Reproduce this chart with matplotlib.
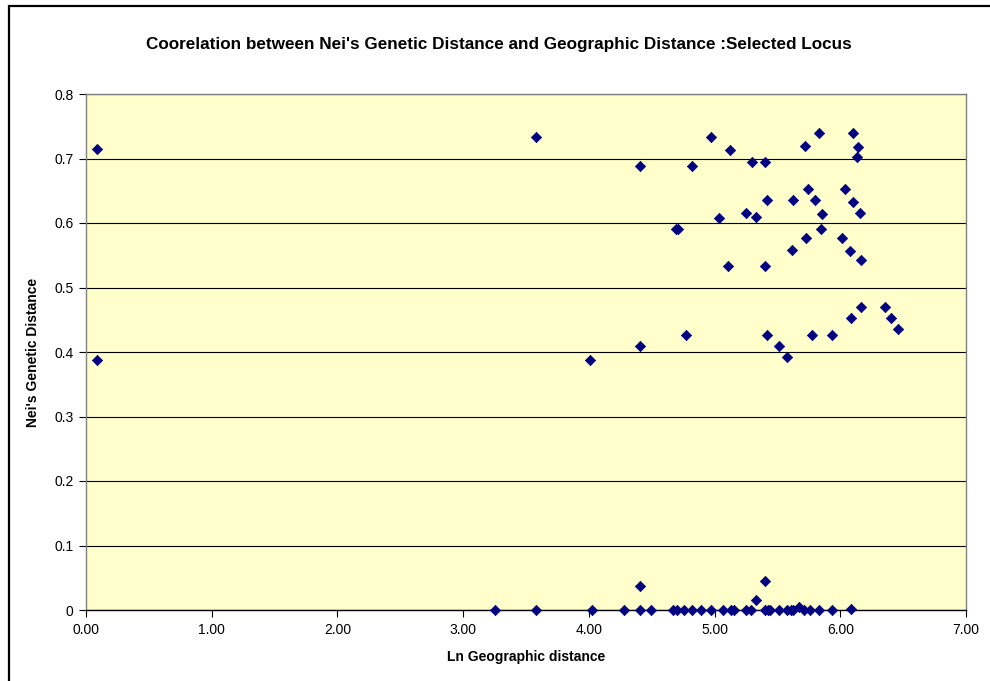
import numpy as np
import matplotlib
matplotlib.use('Agg')
import matplotlib.pyplot as plt
from matplotlib.patches import Rectangle

plt.rcParams['font.family'] = ['Liberation Sans', 'DejaVu Sans']

# Ln geographic distance vs Nei's genetic distance
ln_geo = [
    0.088, 0.088, 3.580, 4.010,
    4.407, 4.821, 4.970, 5.126, 5.296, 5.404, 5.718, 5.829, 6.099, 6.144, 6.131,
    5.744, 6.041, 5.420, 5.625, 5.800, 6.099,
    5.038, 5.251, 5.333, 5.855, 6.158,
    4.690, 4.710, 5.845, 5.726, 6.012, 5.617, 6.076, 6.165, 5.107, 5.399,
    6.163, 6.354, 6.086, 6.402, 6.457,
    4.407, 4.771, 5.418, 5.516, 5.579, 5.773, 5.935,
    4.407, 5.402, 5.333,
    3.254, 3.582, 4.023, 4.276, 4.407, 4.497, 4.667, 4.699, 4.760, 4.823,
    4.893, 4.972, 5.070, 5.131, 5.155, 5.251, 5.288, 5.402, 5.428, 5.442,
    5.516, 5.579, 5.609, 5.627, 5.672, 5.712, 5.760, 5.831, 5.937, 6.086,
]
nei_dist = [
    0.714, 0.388, 0.733, 0.388,
    0.688, 0.688, 0.734, 0.713, 0.694, 0.694, 0.720, 0.740, 0.740, 0.718, 0.703,
    0.653, 0.653, 0.635, 0.635, 0.635, 0.633,
    0.608, 0.616, 0.609, 0.614, 0.616,
    0.590, 0.590, 0.591, 0.577, 0.577, 0.558, 0.557, 0.543, 0.533, 0.534,
    0.469, 0.469, 0.452, 0.452, 0.436,
    0.410, 0.427, 0.427, 0.409, 0.392, 0.427, 0.427,
    0.037, 0.045, 0.015,
    0.0, 0.0, 0.0, 0.0, 0.0, 0.0, 0.0, 0.0, 0.0, 0.0,
    0.0, 0.0, 0.0, 0.0, 0.0, 0.0, 0.0, 0.0, 0.0, 0.0,
    0.0, 0.0, 0.0, 0.0, 0.004, 0.0, 0.0, 0.0, 0.0, 0.002,
]

x_ticks = [0, 1, 2, 3, 4, 5, 6, 7]
y_ticks = [0, 0.1, 0.2, 0.3, 0.4, 0.5, 0.6, 0.7, 0.8]

fig = plt.figure(figsize=(9.9, 6.81), dpi=100)
ax = fig.add_axes([86 / 990, 1 - 610 / 681, 880 / 990, 516 / 681])

# chart area border (cropped on right and bottom)
fig.patches.append(Rectangle((8.5 / 990, -0.1), 1.2, 1 - 6.5 / 681 + 0.1,
                             transform=fig.transFigure, fill=False,
                             edgecolor='black', linewidth=1.6))

ax.set_facecolor('#FFFFCC')
ax.scatter(ln_geo, nei_dist, marker='D', s=28, color='#000080',
           edgecolors='#000080', linewidths=0.5, zorder=3, clip_on=False)

ax.set_xlim(0, 7)
ax.set_ylim(0, 0.8)
ax.set_xticks(x_ticks)
ax.set_xticklabels(['%.2f' % v for v in x_ticks])
ax.set_yticks(y_ticks)
ax.set_yticklabels(['0' if v == 0 else '%.1f' % v for v in y_ticks])
ax.yaxis.grid(True, color='black', linewidth=0.8)
ax.set_axisbelow(True)

for side in ['top', 'right', 'left']:
    ax.spines[side].set_color('#808080')
    ax.spines[side].set_linewidth(1.0)
ax.spines['bottom'].set_color('black')
ax.spines['bottom'].set_linewidth(1.0)
ax.tick_params(direction='out', length=5, width=0.8, labelsize=10, pad=4)

fig.text(498.5 / 990, 1 - 45 / 681,
         "Coorelation between Nei's Genetic Distance and Geographic Distance :Selected Locus",
         fontsize=12.3, fontweight='bold', ha='center', va='center')
ax.set_xlabel('Ln Geographic distance', fontsize=10, fontweight='bold', labelpad=10)
ax.set_ylabel("Nei's Genetic Distance", fontsize=10, fontweight='bold', labelpad=10)

plt.savefig('out.png', dpi=100)
